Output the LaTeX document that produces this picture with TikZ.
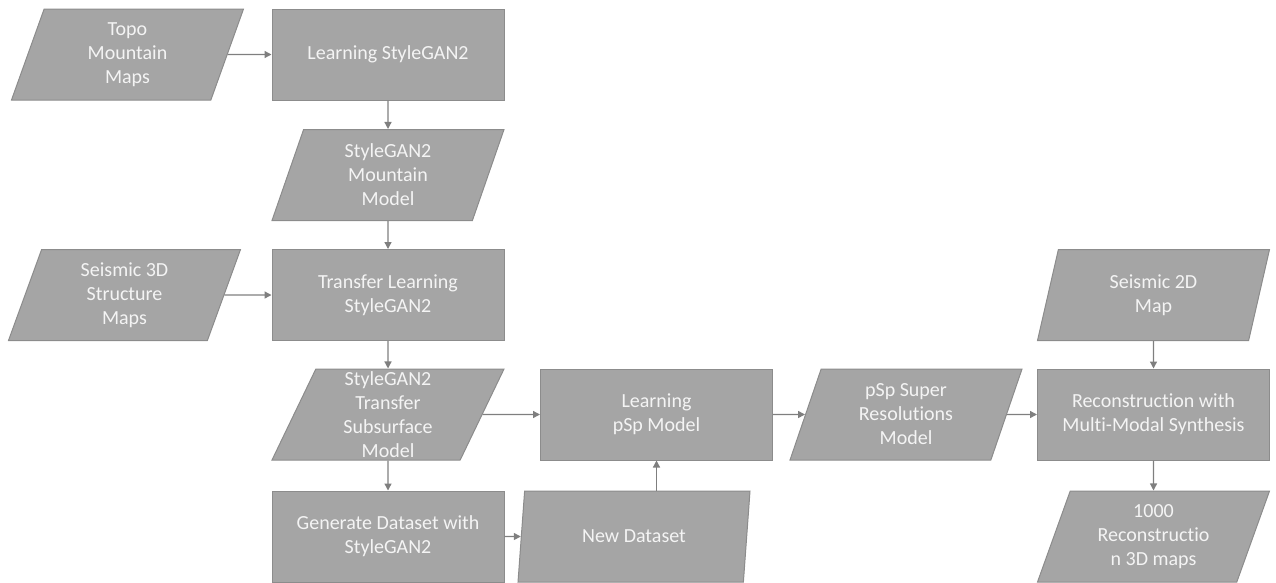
\documentclass[tikz,border=0pt]{standalone}
\usepackage{fontspec}
\setmainfont{Carlito}[Ligatures=NoCommon]
\usetikzlibrary{shapes.geometric,arrows.meta}
\definecolor{boxfill}{HTML}{A5A5A5}
\definecolor{boxline}{HTML}{8C8C8C}
\definecolor{flowgray}{HTML}{7F7F7F}
\definecolor{boxtext}{HTML}{F4F4F4}

\begin{document}
\begin{tikzpicture}[x=1pt,y=-1pt,
    procbox/.style={rectangle,draw=boxline,fill=boxfill,line width=1pt,
        minimum width=232pt,minimum height=91pt,inner sep=0pt,
        text=boxtext,align=center,font=\fontsize{20}{24}\selectfont},
    databox/.style={trapezium,trapezium left angle=63,trapezium right angle=117,
        trapezium stretches body,draw=boxline,fill=boxfill,line width=1pt,
        minimum width=232pt,minimum height=91pt,inner sep=0pt,
        text=boxtext,align=center,font=\fontsize{20}{24}\selectfont},
    flow/.style={draw=flowgray,line width=1.3pt,-{Triangle[length=7pt,width=7pt]}}]
                \useasboundingbox (0,0) rectangle (1276,582);

                \node[databox] (topo) at (127.5,54.5) {Topo\\Mountain\\Maps};
                \node[procbox] (learnsg) at (388,54.5) {Learning StyleGAN2};
                \node[databox] (mountain) at (388,175) {StyleGAN2\\Mountain\\Model};
                \node[databox] (seis3d) at (124.5,295) {Seismic 3D\\Structure\\Maps};
                \node[procbox] (transfer) at (388,295) {Transfer Learning\\StyleGAN2};
                \node[databox] (subsurf) at (388,414.5) {StyleGAN2\\Transfer\\Subsurface\\Model};
                \node[procbox] (gen) at (388,536.5) {Generate Dataset with\\StyleGAN2};
                \node[databox] (newds) at (634,536.5) {New Dataset};
                \node[procbox] (psp) at (656.5,414.5) {Learning\\pSp Model};
                \node[databox] (super) at (906,414.5) {pSp Super\\Resolutions\\Model};
                \node[databox] (seis2d) at (1153.5,295) {Seismic 2D\\Map};
                \node[procbox] (recon) at (1153.5,414.5) {Reconstruction with\\Multi-Modal Synthesis};
                \node[databox] (maps3d) at (1153.5,536.5) {1000\\Reconstructio\\n 3D maps};

                \draw[flow] (topo.east) to (learnsg.west);
                \draw[flow] (learnsg.south) to (mountain.north);
                \draw[flow] (mountain.south) to (transfer.north);
                \draw[flow] (seis3d.east) to (transfer.west);
                \draw[flow] (transfer.south) to (subsurf.north);
                \draw[flow] (subsurf.south) to (gen.north);
                \draw[flow] (subsurf.east) to (psp.west);
                \draw[flow] (gen.east) to (newds.west);
                \draw[flow] (psp.south |- newds.north) to (psp.south);
                \draw[flow] (psp.east) to (super.west);
                \draw[flow] (super.east) to (recon.west);
                \draw[flow] (seis2d.south) to (recon.north);
                \draw[flow] (recon.south) to (maps3d.north);
            \end{tikzpicture}
\end{document}
